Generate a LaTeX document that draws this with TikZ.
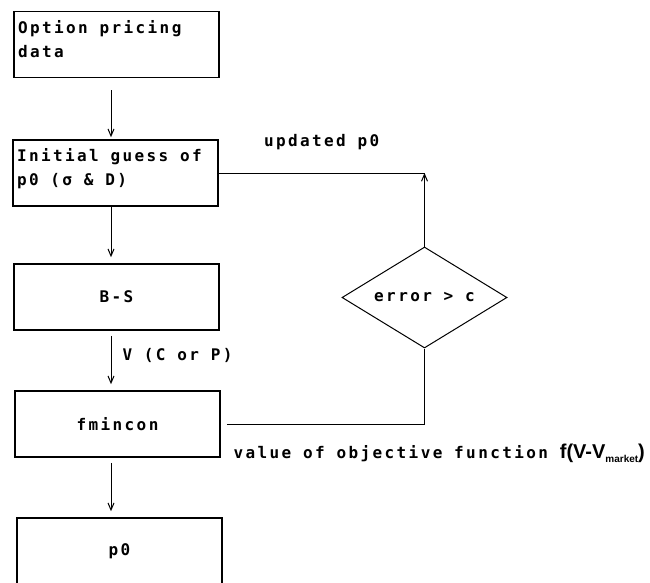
\documentclass[tikz,border=0pt]{standalone}
\usepackage{fontspec}
\usetikzlibrary{shapes.geometric, arrows.meta}

\newfontfamily\flowfont[LetterSpace=15]{DejaVu Sans Mono}
\newfontfamily\labelsans{Liberation Sans Bold}

\begin{document}
\begin{tikzpicture}[x=1pt, y=-1pt, >={Straight Barb[length=7pt,width=6pt]}, line width=1pt]
    \tikzset{
        every node/.style={font=\flowfont\bfseries\fontsize{16}{24}\selectfont, execute at begin node={\spaceskip=11.8pt\relax}},
        block/.style={draw, line width=1.6pt, minimum width=205pt, minimum height=66pt, inner sep=4pt, align=center},
        leftblock/.style={block, text width=197pt, align=left, text depth=36pt},
        test/.style={draw, diamond, aspect=1.6, minimum width=165pt, minimum height=101pt, inner sep=0pt},
        lbl/.style={inner sep=0pt}
    }
    \useasboundingbox (0,0) rectangle (650,583);

    % main column
    \node[leftblock] (data) at (116.5,44.5) {Option pricing\\data};
    \node[leftblock] (guess) at (115.5,173) {Initial guess of\\p0 (σ \& D)};
    \node[block] (bs) at (116.5,297) {B-S};
    \node[block] (fmin) at (117.5,424) {fmincon};
    \node[block] (result) at (119.5,551) {p0};
    \coordinate (spine) at (111,0);

    % stopping test
    \node[test] (err) at (424.5,297.5) {error > c};

    \draw[->, shorten <=12pt, shorten >=2pt] (data.south -| spine) -- (guess.north -| spine);
    \draw[->, shorten >=6pt] (guess.south -| spine) -- (bs.north -| spine);
    \draw[->, shorten <=5pt, shorten >=6pt] (bs.south -| spine) -- (fmin.north -| spine)
        node[lbl, pos=0.42, right=11pt] {V (C or P)};
    \draw[->, shorten <=5pt, shorten >=6pt] (fmin.south -| spine) -- (result.north -| spine);

    % feedback loop
    \draw[shorten <=6pt] (fmin.east) -| (err.south);
    \draw[->] (err.north) -- (err.north |- guess.east);
    \draw (guess.east) -- (err.north |- guess.east)
        node[lbl, midway, above=23pt] {updated p0};

    \node[lbl, anchor=base west] (objective) at (233,458)
        {value of objective function {\labelsans\fontsize{20}{20}\selectfont f(V-V\raisebox{-4pt}{\fontsize{10}{10}\selectfont market})}};
\end{tikzpicture}
\end{document}
